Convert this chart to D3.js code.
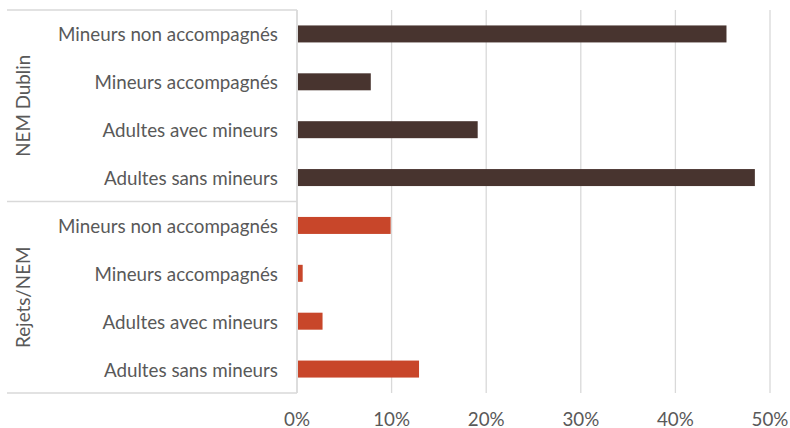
<!DOCTYPE html>
<html><head><meta charset="utf-8">
<script src="https://cdn.jsdelivr.net/npm/d3@7"></script>
<style>body{margin:0;background:#fff;} text{font-family:Lato, "Open Sans", sans-serif;}</style>
</head><body>
<svg id="c" width="790" height="428"></svg>
<script>
const groups = ["NEM Dublin", "Rejets/NEM"];
const categories = ["Mineurs non accompagnés", "Mineurs accompagnés", "Adultes avec mineurs", "Adultes sans mineurs"];
const nemDublin = [45.4, 7.8, 19.1, 48.4];
const rejetsNem = [9.9, 0.6, 2.7, 12.9];
const ticks = [0, 10, 20, 30, 40, 50];
const colors = ["#48342F", "#C8462A"];

(function(){
const seriesValues = [nemDublin, rejetsNem];
const rows = [];
groups.forEach((g, gi) => categories.forEach((c, ci) => rows.push({g, gi, c, v: seriesValues[gi][ci], key: gi + "-" + ci})));

const svg = d3.select("#c");
const pL = 297, pR = 770, pT = 10, pB = 393;
const x = d3.scaleLinear().domain([0, 50]).range([pL, pR]);
const y = d3.scaleBand().domain(rows.map(r => r.key)).range([pT, pB]).paddingInner(0.645).paddingOuter(0.3225);
const grid = "#d9d9d9";
const fs = 18.8;

svg.append("g").selectAll("line").data(ticks).join("line")
  .attr("x1", d => x(d)).attr("x2", d => x(d)).attr("y1", pT).attr("y2", pB)
  .attr("stroke", grid).attr("stroke-width", 1.3);

svg.append("g").selectAll("rect").data(rows).join("rect")
  .attr("x", x(0) + 1).attr("y", d => y(d.key))
  .attr("width", d => x(d.v) - x(0) - 1).attr("height", y.bandwidth())
  .attr("fill", d => colors[d.gi]);

const groupBounds = [pT, pT + (pB - pT) / 2, pB];
svg.append("g").selectAll("line").data(groupBounds).join("line")
  .attr("x1", 7).attr("x2", pL).attr("y1", d => d).attr("y2", d => d)
  .attr("stroke", grid).attr("stroke-width", 1.3);
svg.append("line").attr("x1", pL).attr("x2", pL).attr("y1", pT).attr("y2", pB)
  .attr("stroke", grid).attr("stroke-width", 1.3);

svg.append("g").selectAll("text").data(rows).join("text")
  .attr("x", 278).attr("y", d => y(d.key) + y.bandwidth() / 2)
  .attr("text-anchor", "end").attr("dominant-baseline", "central")
  .attr("font-size", fs).attr("fill", "#595959").text(d => d.c);

svg.append("g").selectAll("text").data(groups).join("text")
  .attr("transform", (d, i) => `translate(22,${(groupBounds[i] + groupBounds[i + 1]) / 2}) rotate(-90)`)
  .attr("text-anchor", "middle").attr("dominant-baseline", "central")
  .attr("font-size", fs).attr("fill", "#595959").text(d => d);

svg.append("g").selectAll("text").data(ticks).join("text")
  .attr("x", d => x(d)).attr("y", 418)
  .attr("text-anchor", "middle").attr("dominant-baseline", "central")
  .attr("font-size", fs).attr("fill", "#595959").text(d => d + "%");
})();
</script>
</body></html>
